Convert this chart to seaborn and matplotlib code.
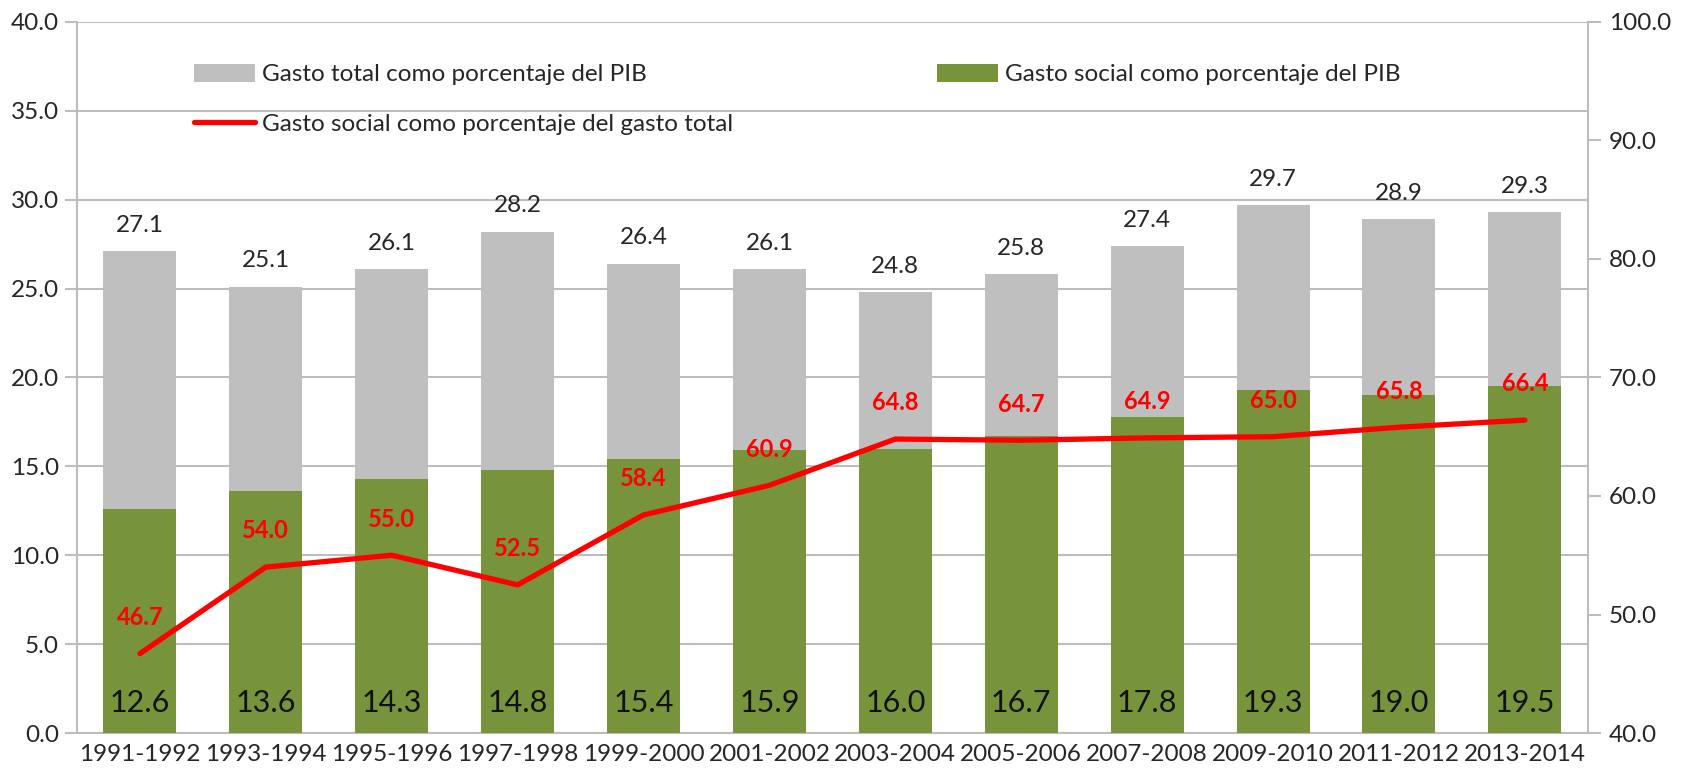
import numpy as np
import pandas as pd
import matplotlib
matplotlib.use("Agg")
import matplotlib.pyplot as plt
import seaborn as sns
from matplotlib.patches import Patch
from matplotlib.lines import Line2D

periods = ["1991-1992", "1993-1994", "1995-1996", "1997-1998", "1999-2000", "2001-2002",
           "2003-2004", "2005-2006", "2007-2008", "2009-2010", "2011-2012", "2013-2014"]
gasto_total = [27.1, 25.1, 26.1, 28.2, 26.4, 26.1, 24.8, 25.8, 27.4, 29.7, 28.9, 29.3]
gasto_social = [12.6, 13.6, 14.3, 14.8, 15.4, 15.9, 16.0, 16.7, 17.8, 19.3, 19.0, 19.5]
social_pct_total = [46.7, 54.0, 55.0, 52.5, 58.4, 60.9, 64.8, 64.7, 64.9, 65.0, 65.8, 66.4]

lab_total = "Gasto total como porcentaje del PIB"
lab_social = "Gasto social como porcentaje del PIB"
lab_line = "Gasto social como porcentaje del gasto total"

GRAY = "#BFBFBF"
GREEN = "#77933C"
RED = "#FF0000"
AXC = "#BDBDBD"
TXT = "#262626"

sns.set_style("white")
plt.rcParams["font.family"] = ["Lato", "DejaVu Sans"]

df = pd.DataFrame({"periodo": periods, "total": gasto_total, "social": gasto_social,
                   "pct": social_pct_total, "pos": np.arange(len(periods))})

fig = plt.figure(figsize=(16.91, 7.79), dpi=100)
ax = fig.add_axes([0.0455, 0.059, 0.8935, 0.913])

sns.barplot(data=df, x="periodo", y="total", color=GRAY, width=0.58, ax=ax,
            saturation=1, zorder=2, linewidth=0, edgecolor="none")
sns.barplot(data=df, x="periodo", y="social", color=GREEN, width=0.58, ax=ax,
            saturation=1, zorder=3, linewidth=0, edgecolor="none")

ax.set_ylim(0, 40)
ax.set_xlim(-0.5, len(periods) - 0.5)
ax.set_yticks(np.arange(0, 40.1, 5))
ax.set_yticklabels([f"{v:.1f}" for v in np.arange(0, 40.1, 5)], fontsize=17.5, color=TXT)
ax.yaxis.grid(True, color=AXC, lw=1.5, zorder=0)
ax.set_axisbelow(True)
ax.set_xlabel("")
ax.set_ylabel("")

ax.set_xticks(np.arange(len(periods)))
ax.set_xticklabels(periods, fontsize=17.5, color=TXT)
ax.tick_params(axis="x", length=0, pad=8)
ax.set_xticks(np.arange(-0.5, len(periods), 1), minor=True)
ax.tick_params(axis="x", which="minor", length=9, color=AXC, width=1.5, direction="out")
ax.tick_params(axis="y", length=9, color=AXC, width=1.5, direction="out", pad=4)

for s in ["left", "bottom"]:
    ax.spines[s].set_color(AXC)
    ax.spines[s].set_linewidth(1.5)
ax.spines["top"].set_visible(False)
ax.spines["right"].set_visible(False)

for i, (t, s) in enumerate(zip(gasto_total, gasto_social)):
    ax.text(i, t + 1.45, f"{t:.1f}", ha="center", va="center", fontsize=17.5, color=TXT, zorder=5)
    ax.text(i, 1.7, f"{s:.1f}", ha="center", va="center", fontsize=22, color="#111111", zorder=5)

ax2 = ax.twinx()
sns.lineplot(data=df, x="pos", y="pct", color=RED, lw=3.8, ax=ax2, zorder=4)
ax2.set_ylim(40, 100)
ax2.set_xlim(-0.5, len(periods) - 0.5)
ax2.set_yticks(np.arange(40, 100.1, 10))
ax2.set_yticklabels([f"{v:.1f}" for v in np.arange(40, 100.1, 10)], fontsize=17.5, color=TXT)
ax2.tick_params(axis="y", length=9, color=AXC, width=1.5, direction="out", pad=6)
ax2.set_ylabel("")
ax2.set_xlabel("")
for s in ["left", "bottom", "top"]:
    ax2.spines[s].set_visible(False)
ax2.spines["right"].set_color(AXC)
ax2.spines["right"].set_linewidth(1.5)

for i, p in enumerate(social_pct_total):
    ax2.annotate(f"{p:.1f}", (i, p), xytext=(0, 26), textcoords="offset points",
                 ha="center", va="center", fontsize=17, fontweight="bold", color=RED, zorder=6)

handles = [Patch(facecolor=GRAY, edgecolor="none"),
           Line2D([0], [0], color=RED, lw=3.8),
           Patch(facecolor=GREEN, edgecolor="none")]
labels = [lab_total, lab_line, lab_social]
ax2.legend(handles, labels, ncol=2, loc="upper left", bbox_to_anchor=(0.063, 0.972),
           frameon=False, fontsize=17.5, handlelength=2.5, handleheight=0.8,
           columnspacing=8.4, handletextpad=0.3, labelspacing=1.15,
           labelcolor=TXT)

fig.savefig("out.png", dpi=100)
